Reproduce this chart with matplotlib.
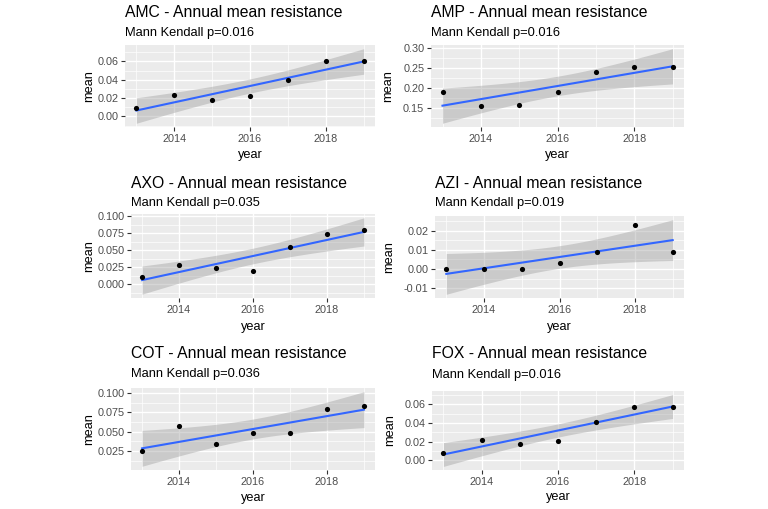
import numpy as np
import matplotlib
matplotlib.use("Agg")
import matplotlib.pyplot as plt
from matplotlib.ticker import FixedLocator, MultipleLocator

plt.rcParams['font.family'] = ['Liberation Sans', 'DejaVu Sans']

# data
years = [2013, 2014, 2015, 2016, 2017, 2018, 2019]
amc = [0.009, 0.023, 0.018, 0.022, 0.040, 0.060, 0.060]
amp = [0.190, 0.156, 0.158, 0.190, 0.239, 0.251, 0.251]
axo = [0.010, 0.028, 0.024, 0.020, 0.055, 0.074, 0.079]
azi = [0.000, 0.000, 0.000, 0.003, 0.009, 0.023, 0.009]
cot = [0.025, 0.057, 0.034, 0.048, 0.048, 0.080, 0.083]
fox = [0.008, 0.022, 0.018, 0.021, 0.041, 0.057, 0.057]

names = ["AMC", "AMP", "AXO", "AZI", "COT", "FOX"]
series = [amc, amp, axo, azi, cot, fox]
pvals = ["0.016", "0.016", "0.035", "0.019", "0.036", "0.016"]
yticks = [
    [0.00, 0.02, 0.04, 0.06],
    [0.15, 0.20, 0.25, 0.30],
    [0.000, 0.025, 0.050, 0.075, 0.100],
    [-0.01, 0.00, 0.01, 0.02],
    [0.025, 0.050, 0.075, 0.100],
    [0.00, 0.02, 0.04, 0.06],
]
ytick_fmt = ["{:.2f}", "{:.2f}", "{:.3f}", "{:.2f}", "{:.3f}", "{:.2f}"]
xticks = [2014, 2016, 2018]

# panel boxes in pixels: left, top, right, bottom
W, H = 768, 509
boxes = [
    (125, 45, 375, 127),
    (431, 45, 684, 127),
    (131, 214, 375, 298),
    (435, 216, 684, 298),
    (131, 388, 375, 470),
    (432, 391, 684, 470),
]
title_y = [12.7, 12.7, 183.3, 183.3, 354, 354]
sub_y = [33.3, 33.3, 203.3, 203.3, 374.5, 374.7]
ylab_x = [89, 388, 89, 389, 89, 390]
xlab_y = [155, 155, 326.7, 326.7, 498, 497]

T975 = 2.570582  # t quantile, df = 5

fig = plt.figure(figsize=(W / 100, H / 100), dpi=100)

for i in range(6):
    l, t, r, b = boxes[i]
    ax = fig.add_axes([l / W, 1 - b / H, (r - l) / W, (b - t) / H])
    x = np.array(years, dtype=float)
    y = np.array(series[i])

    # linear fit with 95% band, like geom_smooth(method="lm")
    slope, icpt = np.polyfit(x, y, 1)
    n = len(x)
    resid = y - (slope * x + icpt)
    s = np.sqrt(np.sum(resid ** 2) / (n - 2))
    sxx = np.sum((x - x.mean()) ** 2)
    xs = np.linspace(x.min(), x.max(), 80)
    fit = slope * xs + icpt
    se = s * np.sqrt(1 / n + (xs - x.mean()) ** 2 / sxx)
    lo = fit - T975 * se
    hi = fit + T975 * se

    ax.set_facecolor('#EBEBEB')
    for sp in ax.spines.values():
        sp.set_visible(False)
    ax.set_axisbelow(True)

    ax.fill_between(xs, lo, hi, color='#999999', alpha=0.4, lw=0, zorder=2)
    ax.plot(xs, fit, color='#3366FF', lw=1.5, zorder=3)
    ax.scatter(x, y, s=14, color='black', zorder=4, linewidths=0)

    ymin = min(y.min(), lo.min())
    ymax = max(y.max(), hi.max())
    pad = 0.05 * (ymax - ymin)
    ax.set_ylim(ymin - pad, ymax + pad)
    ax.set_xlim(2012.7, 2019.3)

    ax.xaxis.set_major_locator(FixedLocator(xticks))
    ax.xaxis.set_minor_locator(MultipleLocator(1))
    ax.yaxis.set_major_locator(FixedLocator(yticks[i]))
    step = yticks[i][1] - yticks[i][0]
    ax.yaxis.set_minor_locator(MultipleLocator(step / 2))
    ax.set_yticklabels([ytick_fmt[i].format(v) for v in yticks[i]])
    ax.set_xticklabels([str(v) for v in xticks])

    ax.grid(which='major', color='white', lw=1.0)
    ax.grid(which='minor', color='white', lw=0.5)
    ax.tick_params(which='major', length=2.8, width=0.8, color='#333333',
                   labelcolor='#4D4D4D', labelsize=7.8, pad=2)
    ax.tick_params(which='minor', length=0)

    ax.set_xlabel('year', fontsize=9.2)
    ax.xaxis.label.set_va('center')
    ax.xaxis.set_label_coords(0.5, -(xlab_y[i] - b) / (b - t))
    ax.set_ylabel('mean', fontsize=9.2)
    ax.yaxis.label.set_va('center')
    ax.yaxis.set_label_coords((ylab_x[i] - l) / (r - l), 0.5)

    fig.text(l / W, 1 - title_y[i] / H, names[i] + " - Annual mean resistance",
             fontsize=11.3, va='center', ha='left')
    fig.text(l / W, 1 - sub_y[i] / H, "Mann Kendall p=" + pvals[i],
             fontsize=9.3, va='center', ha='left')

fig.savefig('out.png', dpi=100)
